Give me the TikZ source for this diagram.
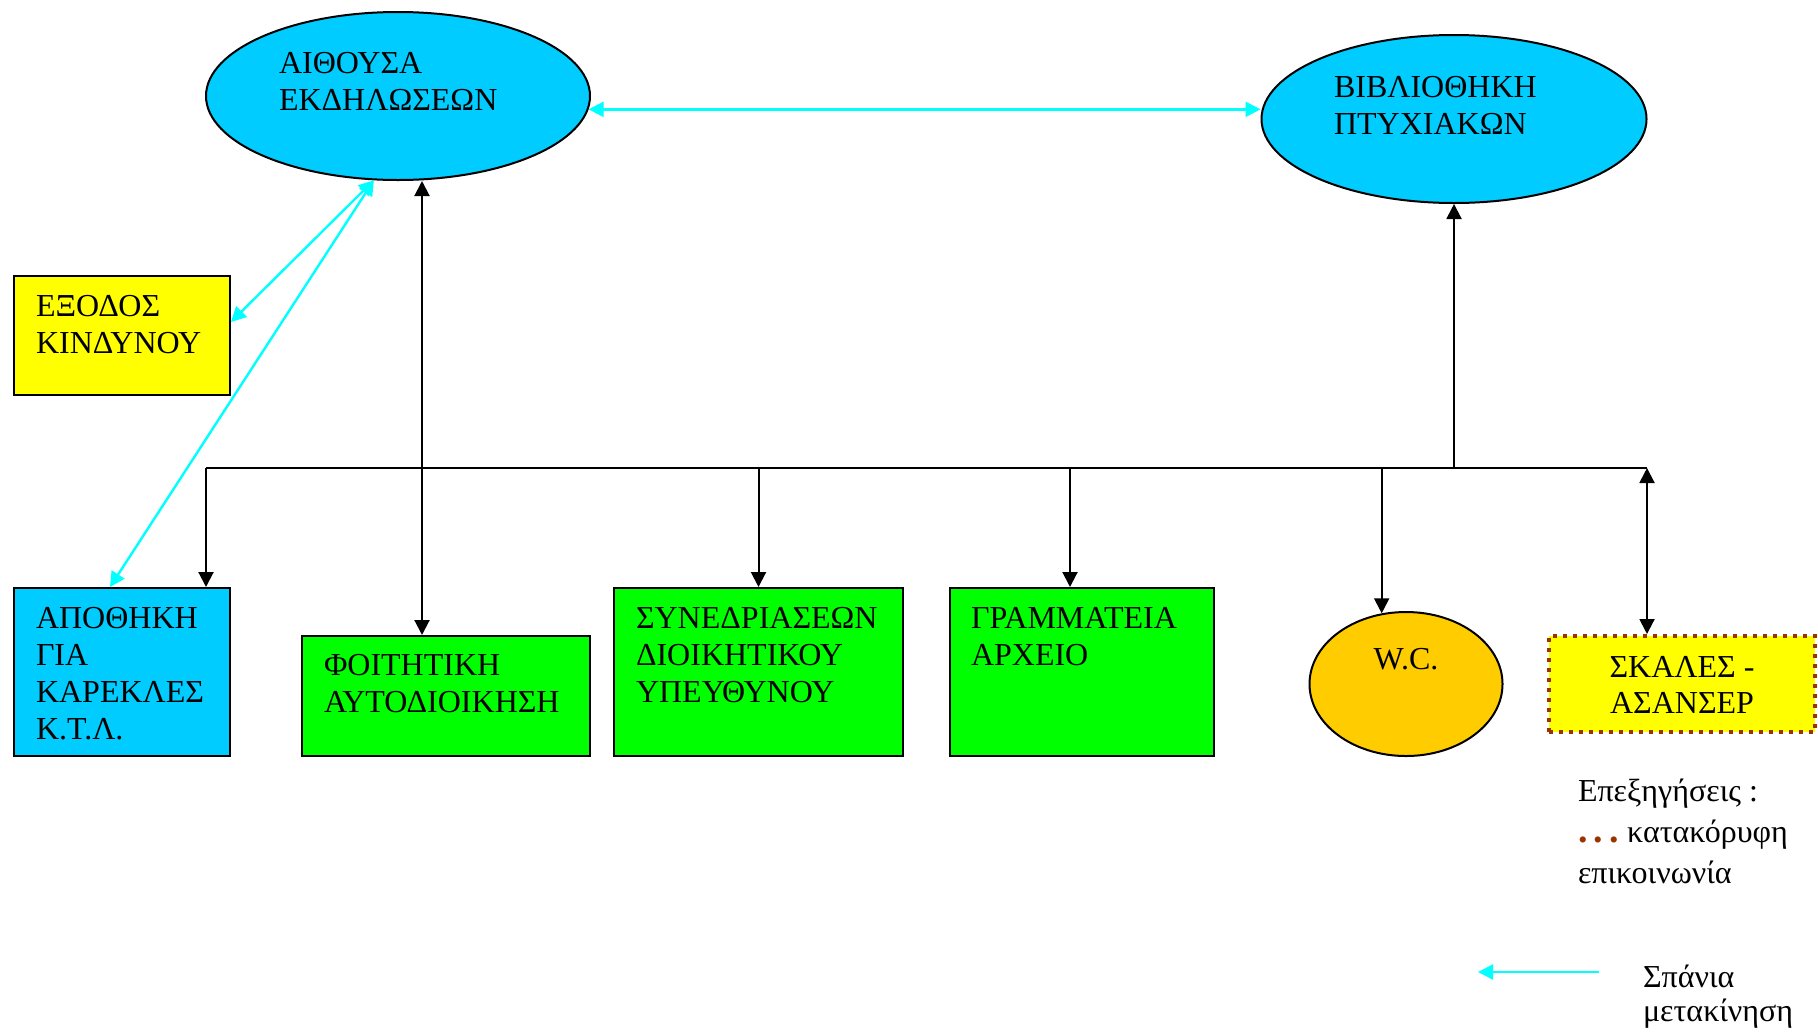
\documentclass[tikz,border=0pt]{standalone}
\usepackage{fontspec}
\setmainfont{Liberation Serif}
\usepackage{xcolor}
\usetikzlibrary{shapes,arrows,arrows.meta,positioning}

\definecolor{skyfill}{HTML}{00CCFF}
\definecolor{greenfill}{HTML}{00FF00}
\definecolor{yellowfill}{HTML}{FFFF00}
\definecolor{orangefill}{HTML}{FFCC00}
\definecolor{rareline}{HTML}{00FFFF}
\definecolor{liftline}{HTML}{993300}

\begin{document}
\begin{tikzpicture}[x=0.5pt, y=-0.5pt, line width=1pt, >={Triangle[length=7.5pt,width=7.5pt]}]
        \tikzstyle{hall}=[draw=black, ellipse, inner sep=0pt]
        \tikzstyle{room}=[draw=black, rectangle, inner sep=0pt]
        \tikzstyle{txt}=[anchor=base west, align=left, inner sep=0pt, font=\fontsize{16}{18.5}\selectfont]
        \tikzstyle{rare}=[rareline, line width=1.2pt]
        \useasboundingbox (0,0) rectangle (1818,1034);
        % shapes
        \node[hall, fill=skyfill, minimum width=192pt, minimum height=84pt]     (aith)  at (398,96)    {};
        \node[hall, fill=skyfill, minimum width=192.5pt, minimum height=84pt]   (bibl)  at (1454,119)  {};
        \node[room, fill=yellowfill, minimum width=108pt, minimum height=59.5pt] (exit) at (122,335.5) {};
        \node[room, fill=skyfill, minimum width=108pt, minimum height=84pt]     (apoth) at (122,672)   {};
        \node[room, fill=greenfill, minimum width=144pt, minimum height=60pt]   (foit)  at (446,696)   {};
        \node[room, fill=greenfill, minimum width=144.5pt, minimum height=84pt] (syn)   at (758.5,672) {};
        \node[room, fill=greenfill, minimum width=132pt, minimum height=84pt]   (gram)  at (1082,672)  {};
        \node[hall, fill=orangefill, minimum width=96.5pt, minimum height=72pt] (wc)    at (1406,684)  {};
        \node[room, fill=yellowfill, draw=liftline, line width=2pt, dash pattern=on 2pt off 3pt,
              minimum width=133pt, minimum height=48pt]                          (stair) at (1682,684)  {};
        % texts (placed at the baseline of their last line)
        \node[txt] (aithT)  at (278,110)  {ΑΙΘΟΥΣΑ\\ΕΚΔΗΛΩΣΕΩΝ};
        \node[txt] (biblT)  at (1333,134) {ΒΙΒΛΙΟΘΗΚΗ\\ΠΤΥΧΙΑΚΩΝ};
        \node[txt] (exitT)  at (35,353)   {ΕΞΟΔΟΣ\\ΚΙΝΔΥΝΟΥ};
        \node[txt] (apothT) at (35,739)   {ΑΠΟΘΗΚΗ\\ΓΙΑ\\ΚΑΡΕΚΛΕΣ\\Κ.Τ.Λ.};
        \node[txt] (foitT)  at (323,712)  {ΦΟΙΤΗΤΙΚΗ\\ΑΥΤΟΔΙΟΙΚΗΣΗ};
        \node[txt] (synT)   at (635,702)  {ΣΥΝΕΔΡΙΑΣΕΩΝ\\ΔΙΟΙΚΗΤΙΚΟΥ\\ΥΠΕΥΘΥΝΟΥ};
        \node[txt] (gramT)  at (970,665)  {ΓΡΑΜΜΑΤΕΙΑ\\ΑΡΧΕΙΟ};
        \node[txt, anchor=base] (wcT) at (1406,669) {W.C.};
        \node[txt, anchor=base, align=center, font=\fontsize{16}{18}\selectfont] (stairT) at (1682,713) {ΣΚΑΛΕΣ -\\ΑΣΑΝΣΕΡ};
        \node[txt, font=\fontsize{16}{20.3}\selectfont] (noteT) at (1577,883)
              {Επεξηγήσεις :\\{\color{liftline}\fontsize{19}{19}\selectfont\textbf{.\,.\,.}}~κατακόρυφη\\επικοινωνία};
        \node[txt, font=\fontsize{16}{17}\selectfont] (rareT) at (1642,1021) {Σπάνια\\μετακίνηση};
        % bus
        \coordinate (busL) at (206,468);
        \coordinate (busR) at (1647,468);
        \coordinate (aithB) at ([xshift=12pt]aith.south);
        \draw (busL) -- (busR);
        \draw[->] (busL) -- (busL |- apoth.north);
        \draw[->] (syn.north |- busL) -- (syn.north);
        \draw[->] ([xshift=-6pt]gram.north |- busL) -- ([xshift=-6pt]gram.north);
        \draw[->] (wc.109 |- busL) -- (wc.109);
        \draw[->] (bibl.south |- busL) -- (bibl.south);
        \draw[<->] (aithB) -- (aithB |- foit.north);
        \draw[<->] (busR) -- (busR |- stair.north);
        % rare moves
        \draw[rare, <->] (aith.356) -- (aith.356 -| bibl.west);
        \draw[rare, <->] (aith.254) -- ([yshift=6.75pt]exit.east);
        \draw[rare, <->] (aith.254) -- ([xshift=-6pt]apoth.north);
        \coordinate (legA) at (1599,972);
        \coordinate (legB) at (1478,972);
        \draw[rare, ->] (legA) -- (legB);
\end{tikzpicture}
\end{document}
